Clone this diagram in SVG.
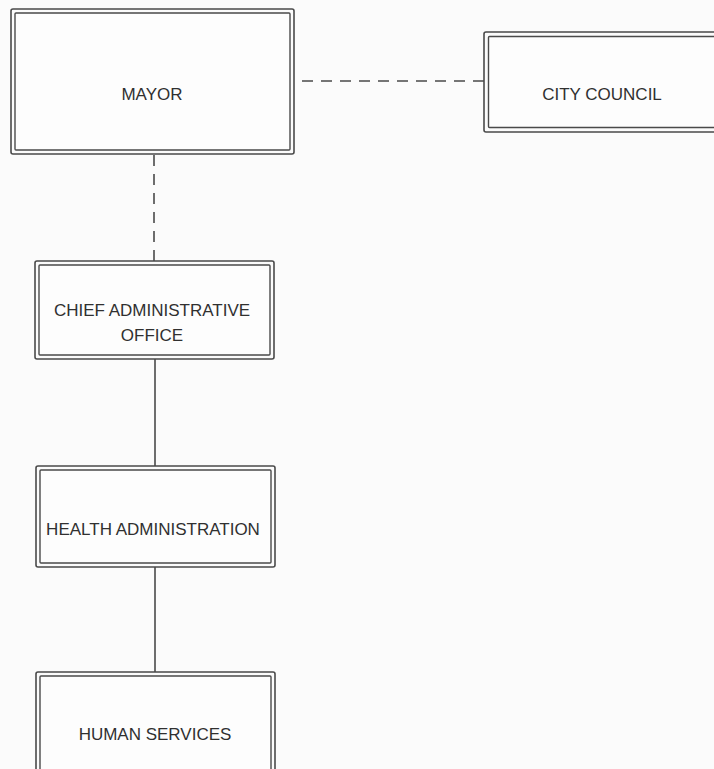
<svg xmlns="http://www.w3.org/2000/svg" width="714" height="769" viewBox="0 0 714 769">
<defs>
<style>
.o{fill:none;stroke:#4a4a4a;stroke-width:1.6}
.i{fill:#fdfdfd;stroke:#4a4a4a;stroke-width:1.4}
.t{font-family:"Liberation Sans",Arial,sans-serif;font-size:17px;fill:#303030;text-anchor:middle}
.c{stroke:#4a4a4a;stroke-width:1.6;fill:none}
.d{stroke-dasharray:11 8}
</style>
</defs>
<rect width="714" height="769" fill="#fbfbfb"/>
<g id="connectors">
<line class="c d" x1="484" y1="81" x2="295" y2="81"/>
<line class="c d" x1="154" y1="261" x2="154" y2="155"/>
<line class="c" x1="155" y1="359" x2="155" y2="466"/>
<line class="c" x1="155" y1="567" x2="155" y2="672"/>
</g>
<g id="mayor">
<rect class="o" x="11" y="9" width="283" height="145" rx="2"/>
<rect class="i" x="15" y="13" width="275" height="137" rx="1"/>
<text class="t" x="152" y="100">MAYOR</text>
</g>
<g id="city-council">
<rect class="o" x="484" y="32" width="240" height="100" rx="2"/>
<rect class="i" x="488.5" y="36.5" width="240" height="91" rx="1"/>
<text class="t" x="602" y="100">CITY COUNCIL</text>
</g>
<g id="chief-administrative-office">
<rect class="o" x="35" y="261" width="239" height="98" rx="2"/>
<rect class="i" x="39" y="265" width="231" height="90" rx="1"/>
<text class="t" x="152" y="316">CHIEF ADMINISTRATIVE</text>
<text class="t" x="152" y="341">OFFICE</text>
</g>
<g id="health-administration">
<rect class="o" x="36" y="466" width="239" height="101" rx="2"/>
<rect class="i" x="40" y="470" width="231" height="93" rx="1"/>
<text class="t" x="153" y="535">HEALTH ADMINISTRATION</text>
</g>
<g id="human-services">
<rect class="o" x="36" y="672" width="239" height="110" rx="2"/>
<rect class="i" x="40" y="676" width="231" height="110" rx="1"/>
<text class="t" x="155" y="740">HUMAN SERVICES</text>
</g>
</svg>
